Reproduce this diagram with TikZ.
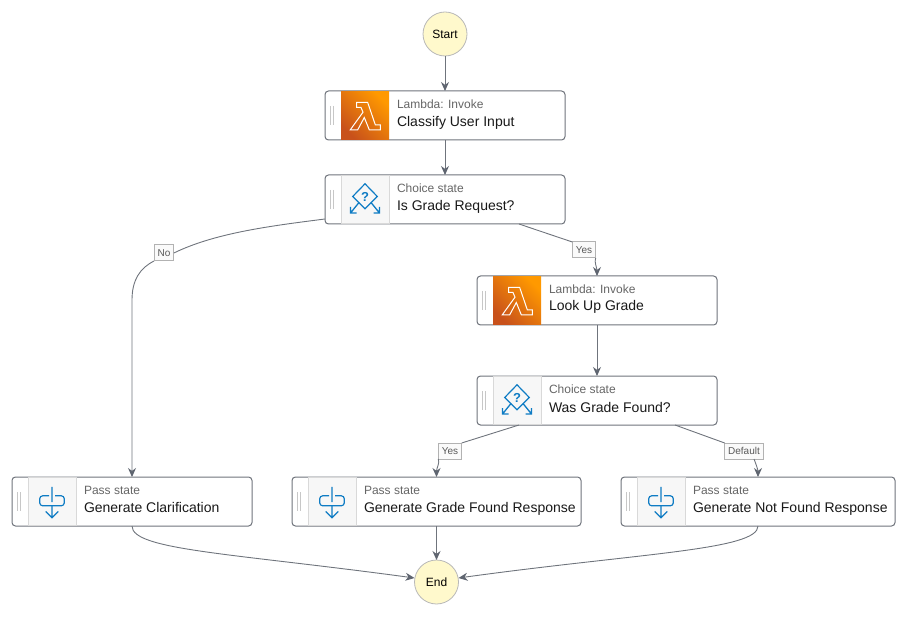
\documentclass[tikz,border=0pt]{standalone}
\usepackage{fontspec}
\setmainfont{Liberation Sans}
\usetikzlibrary{positioning,arrows.meta,calc}
\definecolor{edgegray}{HTML}{6F747C}
\definecolor{tipgray}{HTML}{5F6570}
\definecolor{iconblue}{HTML}{0F7CC4}
\definecolor{startfill}{HTML}{FFF9CC}
\definecolor{lambdadark}{HTML}{C8511B}
\definecolor{lambdalight}{HTML}{FF9900}
\tikzset{
  lambdaicon/.pic={
    \draw[white, line width=1pt, line join=miter]
      (-8.3,-13) -- (-8.3,-8) -- (-4,-8) -- (-2,-3.3) -- (-14.7,14.3) -- (-7.3,14.3) -- (-0.7,2)
      -- (4.3,14.3) -- (15.3,14.3) -- (15.3,9.3) -- (10.3,9.3) -- (2.7,-13) -- cycle;
  },
  choiceicon/.pic={
    \draw[iconblue, line width=1.2pt] (0,-15.7) -- (12.3,-3) -- (0,9.3) -- (-12.3,-3) -- cycle;
    \draw[iconblue, line width=1.3pt] (-6,3) -- (-14.5,13.5) (-14.5,7.5) -- (-14.5,13.5) -- (-8.5,13.5);
    \draw[iconblue, line width=1.3pt] (6,3) -- (14.5,13.5) (14.5,7.5) -- (14.5,13.5) -- (8.5,13.5);
    \node[iconblue, font=\bfseries\fontsize{13}{13}\selectfont] at (0,-3) {?};
  },
  passicon/.pic={
    \draw[iconblue, line width=1.2pt, rounded corners=3pt] (-3,-5.7) -- (-12.3,-5.7) -- (-12.3,4.3) -- (12.3,4.3) -- (12.3,-5.7) -- (3,-5.7);
    \draw[iconblue, line width=1.2pt] (0,-14.7) -- (0,0.5) (0,4.3) -- (0,16.3) (-6.3,10) -- (0,16.3) -- (6.3,10);
  }
}
\begin{document}
\begin{tikzpicture}[
  x=1pt, y=-1pt,
  >={Stealth[length=9pt,width=8pt,color=tipgray]},
  flow/.style={draw=edgegray, line width=0.9pt},
  every node/.style={inner sep=0pt, outer sep=0pt},
  statebox/.style={draw=edgegray, line width=1pt, rounded corners=3.5pt, fill=white, minimum height=49pt},
  terminal/.style={circle, draw=black!28, fill=startfill, line width=0.8pt, minimum size=44pt, font=\fontsize{12}{12}\selectfont},
  lambdatile/.style={minimum width=48pt, minimum height=48pt, shading=axis, bottom color=lambdadark, top color=lambdalight, shading angle=-45},
  graytile/.style={draw=black!15, line width=0.7pt, fill=black!3, minimum width=48pt, minimum height=48.5pt},
  kindtext/.style={anchor=west, text=black!60, text height=9pt, text depth=0pt, font=\fontsize{12}{12}\selectfont},
  titletext/.style={anchor=west, text=black!90, text height=10pt, text depth=3pt, font=\fontsize{14}{14}\selectfont},
  branch/.style={draw=black!30, line width=1pt, fill=black!2, text=black!65, minimum height=16pt, inner xsep=3.5pt, font=\fontsize{10}{10}\selectfont},
  grip/.style={draw=black!22, line width=1.2pt}
]

% --- Bounding box ---
\useasboundingbox (0,0) rectangle (907,617);

% --- Start and end ---
\node[terminal] (start) at (445,34) {Start};
\node[terminal] (finish) at (436.5,582) {End};

% --- Classify User Input ---
\node[statebox, minimum width=240pt] (classify) at (445,115.5) {};
\node[lambdatile] (classifyicon) at (365,115.5) {};
\pic at (classifyicon) {lambdaicon};
\draw[grip] (330.5,106) -- (330.5,125) (333.5,106) -- (333.5,125);
\node[kindtext] (classifykind) at (397,104) {Lambda: Invoke};
\node[titletext] (classifytitle) at (397,123.5) {Classify User Input};

% --- Is Grade Request? ---
\node[statebox, minimum width=240pt] (isgrade) at (445,199.5) {};
\node[graytile] (isgradeicon) at (365,199.5) {};
\pic at (isgradeicon) {choiceicon};
\draw[grip] (330.5,190) -- (330.5,209) (333.5,190) -- (333.5,209);
\node[kindtext] (isgradekind) at (397,188) {Choice state};
\node[titletext] (isgradetitle) at (397,207.5) {Is Grade Request?};

% --- Look Up Grade ---
\node[statebox, minimum width=240pt] (lookup) at (597,300.5) {};
\node[lambdatile] (lookupicon) at (517,300.5) {};
\pic at (lookupicon) {lambdaicon};
\draw[grip] (482.5,291) -- (482.5,310) (485.5,291) -- (485.5,310);
\node[kindtext] (lookupkind) at (549,289) {Lambda: Invoke};
\node[titletext] (lookuptitle) at (549,307.5) {Look Up Grade};

% --- Was Grade Found? ---
\node[statebox, minimum width=240pt] (wasgrade) at (597,400.5) {};
\node[graytile] (wasgradeicon) at (517,400.5) {};
\pic at (wasgradeicon) {choiceicon};
\draw[grip] (482.5,391) -- (482.5,410) (485.5,391) -- (485.5,410);
\node[kindtext] (wasgradekind) at (549,389) {Choice state};
\node[titletext] (wasgradetitle) at (549,408.5) {Was Grade Found?};

% --- Pass states ---
\node[statebox, minimum width=240pt] (clarify) at (132,501.5) {};
\node[graytile] (clarifyicon) at (52,501.5) {};
\pic at (clarifyicon) {passicon};
\draw[grip] (17.5,492) -- (17.5,511) (20.5,492) -- (20.5,511);
\node[kindtext] (clarifykind) at (84,490) {Pass state};
\node[titletext] (clarifytitle) at (84,508.5) {Generate Clarification};

\node[statebox, minimum width=289pt] (foundresp) at (436.5,501.5) {};
\node[graytile] (foundrespicon) at (332,501.5) {};
\pic at (foundrespicon) {passicon};
\draw[grip] (297.5,492) -- (297.5,511) (300.5,492) -- (300.5,511);
\node[kindtext] (foundrespkind) at (364,490) {Pass state};
\node[titletext] (foundresptitle) at (364,508.5) {Generate Grade Found Response};

\node[statebox, minimum width=274pt] (missingresp) at (758,501.5) {};
\node[graytile] (missingrespicon) at (661,501.5) {};
\pic at (missingrespicon) {passicon};
\draw[grip] (626.5,492) -- (626.5,511) (629.5,492) -- (629.5,511);
\node[kindtext] (missingrespkind) at (693,490) {Pass state};
\node[titletext] (missingresptitle) at (693,508.5) {Generate Not Found Response};

% --- Branch labels ---
\node[branch] (nolabel) at (164,253) {No};
\node[branch] (yeslabel) at (584,250) {Yes};
\node[branch] (foundlabel) at (450,451) {Yes};
\node[branch] (defaultlabel) at (744,451) {Default};

% --- Free ends on the choice boxes ---
\coordinate (isgradeleft) at (325,219);
\coordinate (isgraderight) at (519,224);
\coordinate (wasgradeleft) at (519,425);
\coordinate (wasgraderight) at (675,425);
\coordinate (finishleft) at (414.5,578);
\coordinate (finishright) at (458.5,578);
\coordinate (defaultfoot) at (754,459);

% --- Straight edges ---
\draw[flow, ->] (start) -- (classify);
\draw[flow, ->] (classify) -- (isgrade);
\draw[flow, ->] (lookup) -- (wasgrade);
\draw[flow, ->] (foundresp) -- (finish);

% --- Curved edges ---
\draw[flow] (isgradeleft) .. controls (270,226) and (215,233) .. (nolabel.east);
\draw[flow, ->] (nolabel.south west) .. controls (140,268) and (132,280) .. (132,300) -- (clarify.north);
\draw[flow] (isgraderight) -- (yeslabel.north west);
\draw[flow, ->] (yeslabel.south east) .. controls (594,262) and (597,268) .. (lookup.north);
\draw[flow] (wasgradeleft) -- (foundlabel.north east);
\draw[flow, ->] (foundlabel.south west) .. controls (440,463) and (436.5,468) .. (foundresp.north);
\draw[flow] (wasgraderight) -- (defaultlabel.north west);
\draw[flow, ->] (defaultfoot) .. controls (756,464) and (758,470) .. (missingresp.north);
\draw[flow, ->] (clarify.south) .. controls (132,550) and (230,553) .. (finishleft);
\draw[flow, ->] (missingresp.south) .. controls (758,550) and (640,553) .. (finishright);

\end{tikzpicture}
\end{document}
